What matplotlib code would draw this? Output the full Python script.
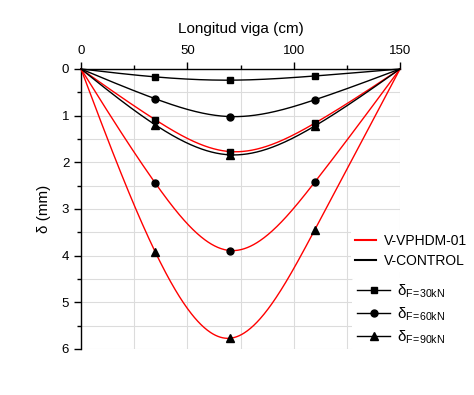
import numpy as np
import matplotlib
matplotlib.use("Agg")
import matplotlib.pyplot as plt
from matplotlib.lines import Line2D
from matplotlib.ticker import MultipleLocator

plt.rcParams['font.family'] = ['Liberation Sans', 'DejaVu Sans']
plt.rcParams['mathtext.default'] = 'regular'

# measurement positions along the beam (cm)
x_pos = [0, 35, 70, 110, 150]

# deflections (mm)
control_30 = [0, 0.17, 0.24, 0.15, 0]
control_60 = [0, 0.64, 1.02, 0.66, 0]
control_90 = [0, 1.20, 1.84, 1.22, 0]
vphdm_30 = [0, 1.09, 1.77, 1.16, 0]
vphdm_60 = [0, 2.45, 3.89, 2.42, 0]
vphdm_90 = [0, 3.93, 5.77, 3.44, 0]


def spline(x, y, xs):
    # natural cubic spline, like the Origin spline connector
    x = np.asarray(x, float)
    y = np.asarray(y, float)
    n = len(x)
    h = np.diff(x)
    A = np.zeros((n, n))
    d = np.zeros(n)
    A[0, 0] = A[-1, -1] = 1
    for i in range(1, n - 1):
        A[i, i - 1] = h[i - 1]
        A[i, i] = 2 * (h[i - 1] + h[i])
        A[i, i + 1] = h[i]
        d[i] = 6 * ((y[i + 1] - y[i]) / h[i] - (y[i] - y[i - 1]) / h[i - 1])
    M = np.linalg.solve(A, d)
    idx = np.clip(np.searchsorted(x, xs) - 1, 0, n - 2)
    x0, x1 = x[idx], x[idx + 1]
    hh = h[idx]
    return (M[idx] * (x1 - xs) ** 3 / (6 * hh) + M[idx + 1] * (xs - x0) ** 3 / (6 * hh)
            + (y[idx] / hh - M[idx] * hh / 6) * (x1 - xs)
            + (y[idx + 1] / hh - M[idx + 1] * hh / 6) * (xs - x0))


fig = plt.figure(figsize=(4.74, 3.95), dpi=100)
ax = fig.add_axes([0.1709, 0.1165, 0.673, 0.7089])

xs = np.linspace(0, 150, 400)
series = [
    (vphdm_30, 'red', 's'), (vphdm_60, 'red', 'o'), (vphdm_90, 'red', '^'),
    (control_30, 'black', 's'), (control_60, 'black', 'o'), (control_90, 'black', '^'),
]
sizes = {'s': 5, 'o': 5, '^': 6}
for vals, col, mk in series:
    ax.plot(xs, spline(x_pos, vals, xs), color=col, lw=1.0, zorder=3, clip_on=False)
    ax.plot(x_pos[1:-1], vals[1:-1], ls='none', marker=mk, color='black',
            ms=sizes[mk], zorder=4)

ax.set_xlim(0, 150)
ax.set_ylim(6, 0)
ax.xaxis.tick_top()
ax.xaxis.set_label_position('top')
ax.xaxis.set_major_locator(MultipleLocator(50))
ax.xaxis.set_minor_locator(MultipleLocator(25))
ax.yaxis.set_major_locator(MultipleLocator(1))
ax.yaxis.set_minor_locator(MultipleLocator(0.5))
ax.grid(True, which='both', color='#dcdcdc', lw=0.8, zorder=0)
ax.set_axisbelow(True)
for s in ['right', 'bottom']:
    ax.spines[s].set_visible(False)
for s in ['left', 'top']:
    ax.spines[s].set_linewidth(1.0)
ax.tick_params(which='major', length=5, width=1.0, labelsize=9.5, direction='out')
ax.tick_params(which='minor', length=3, width=1.0, direction='out')
ax.set_xlabel('Longitud viga (cm)', fontsize=11, labelpad=9)
ax.set_ylabel('δ (mm)', fontsize=11, labelpad=8)

h1 = [Line2D([], [], color='red', lw=1.5), Line2D([], [], color='black', lw=1.5)]
leg1 = fig.legend(h1, ['V-VPHDM-01', 'V-CONTROL'], loc='upper left',
                  bbox_to_anchor=(0.725, 0.435), frameon=True, edgecolor='none',
                  facecolor='white', framealpha=1, fontsize=10, handlelength=1.5,
                  handletextpad=0.6, labelspacing=0.4, borderpad=0.3)
h2 = [Line2D([], [], color='black', lw=1.0, marker=m, ms=sizes[m]) for m in ['s', 'o', '^']]
labels2 = [r'δ$_{F\!=\!30kN}$', r'δ$_{F\!=\!60kN}$', r'δ$_{F\!=\!90kN}$']
leg2 = fig.legend(h2, labels2, loc='upper left', bbox_to_anchor=(0.727, 0.315),
                  frameon=True, edgecolor='none', facecolor='white', framealpha=1,
                  fontsize=11, handlelength=2.2, handletextpad=0.4, labelspacing=0.35,
                  borderpad=0.3)

fig.savefig('out.png', dpi=100)
